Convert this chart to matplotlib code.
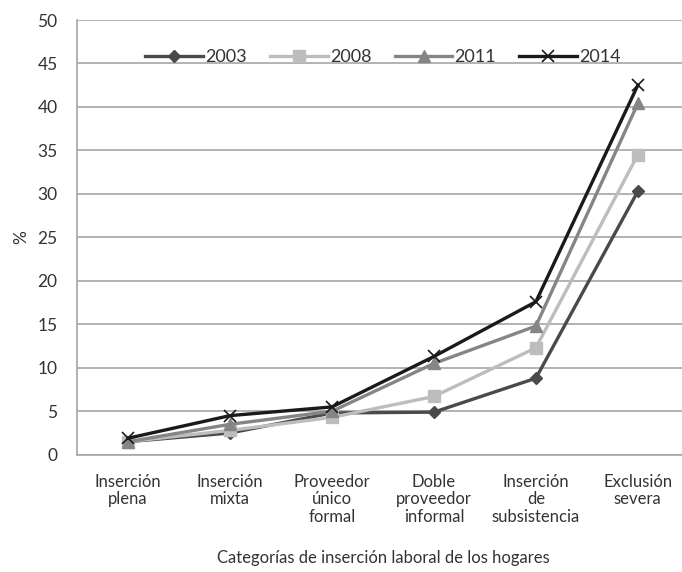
import numpy as np
import matplotlib.pyplot as plt

plt.rcParams['font.family'] = ['Lato', 'DejaVu Sans']

categorias = ['Inserción\nplena', 'Inserción\nmixta', 'Proveedor\núnico\nformal',
              'Doble\nproveedor\ninformal', 'Inserción\nde\nsubsistencia', 'Exclusión\nsevera']
y2003 = [1.5, 2.5, 4.8, 4.9, 8.8, 30.3]
y2008 = [1.5, 2.8, 4.3, 6.7, 12.3, 34.5]
y2011 = [1.5, 3.5, 5.0, 10.5, 14.8, 40.4]
y2014 = [1.9, 4.5, 5.5, 11.3, 17.6, 42.5]

fig = plt.figure(figsize=(6.82, 5.72), dpi=100)
ax = fig.add_axes([0.113, 0.205, 0.897, 0.76])

x = np.arange(len(categorias))
ax.plot(x, y2003, color='#4a4a4a', lw=2.4, marker='D', ms=6, label='2003')
ax.plot(x, y2008, color='#bdbdbf', lw=2.4, marker='s', ms=8, label='2008')
ax.plot(x, y2011, color='#858585', lw=2.4, marker='^', ms=8, label='2011')
ax.plot(x, y2014, color='#1a1a1a', lw=2.4, marker='x', ms=8, mew=1.2, label='2014')

ax.set_xlim(-0.5, 5.5)
ax.set_ylim(0, 50)
ax.set_yticks(np.arange(0, 51, 5))
ax.yaxis.grid(True, color='#a6a6a6', lw=1.2)
ax.set_axisbelow(True)
for s in ['top', 'right']:
    ax.spines[s].set_visible(False)
for s in ['left', 'bottom']:
    ax.spines[s].set_color('#a6a6a6')
    ax.spines[s].set_linewidth(1.2)
ax.tick_params(axis='y', length=0, labelsize=12.5, colors='#333333', pad=14)
ax.tick_params(axis='x', length=0, labelsize=12, colors='#333333', pad=14)
ax.set_xticks(x)
ax.set_xticklabels(categorias, va='top', linespacing=1.1)
ax.set_ylabel('%', fontsize=12.5, color='#333333', labelpad=6)
ax.set_xlabel('Categorías de inserción laboral de los hogares', fontsize=12,
              color='#333333', labelpad=18)

ax.legend(loc='upper center', bbox_to_anchor=(0.5, 0.97), ncol=4, frameon=False,
          fontsize=13, handlelength=3.2, handletextpad=0.1, columnspacing=1.3,
          labelcolor='#333333')

fig.savefig('out.png', dpi=100)
